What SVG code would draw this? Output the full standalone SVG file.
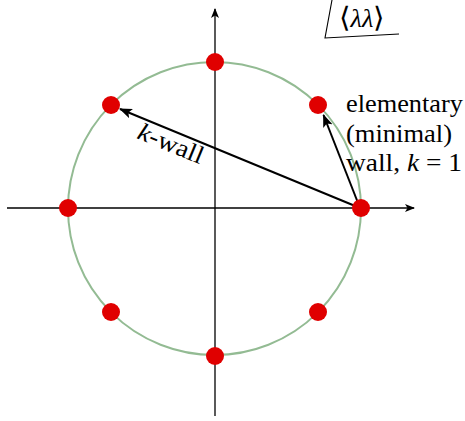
<svg xmlns="http://www.w3.org/2000/svg" width="465" height="421" viewBox="0 0 465 421">
<style>
.axis{stroke:#000;stroke-width:1.3;fill:none}
.wall{stroke:#000;stroke-width:2;fill:none}
.dot{fill:#e00000}
.t{font-family:'Liberation Serif','Times New Roman',serif;font-size:25px;fill:#000}
</style>
<defs>
<marker id="ah" markerWidth="10" markerHeight="8" refX="9" refY="4" orient="auto" markerUnits="userSpaceOnUse">
<path d="M0,0 L10,4 L0,8 L2.5,4 z" fill="#000"/>
</marker>
<marker id="aw" markerWidth="13" markerHeight="10" refX="12" refY="5" orient="auto" markerUnits="userSpaceOnUse">
<path d="M0,0 L13,5 L0,10 L3,5 z" fill="#000"/>
</marker>
</defs>
<g id="circle"><circle cx="214.5" cy="208.5" r="146.5" fill="none" stroke="#93bb93" stroke-width="2"/></g>
<g id="axes">
<line class="axis" x1="7" y1="208" x2="414" y2="208" marker-end="url(#ah)"/>
<line class="axis" x1="215" y1="416" x2="215" y2="9" marker-end="url(#ah)"/>
</g>
<g id="connectors">
<line class="wall" x1="360" y1="208" x2="120" y2="109" marker-end="url(#aw)"/>
<line class="wall" x1="360" y1="208" x2="323.5" y2="115" marker-end="url(#aw)"/>
</g>
<g id="dots">
<circle class="dot" cx="361" cy="208" r="9"/>
<circle class="dot" cx="318" cy="105" r="9"/>
<circle class="dot" cx="215" cy="62" r="9"/>
<circle class="dot" cx="111" cy="105" r="9"/>
<circle class="dot" cx="68" cy="208" r="9"/>
<circle class="dot" cx="111" cy="312" r="9"/>
<circle class="dot" cx="215" cy="356" r="9"/>
<circle class="dot" cx="318" cy="312" r="9"/>
</g>
<g id="label-elementary">
<text class="t" x="346" y="112" textLength="117" lengthAdjust="spacingAndGlyphs">elementary</text>
<text class="t" x="346" y="142" textLength="106" lengthAdjust="spacingAndGlyphs">(minimal)</text>
<text class="t" x="346" y="171" textLength="116" lengthAdjust="spacingAndGlyphs">wall, <tspan font-style="italic">k</tspan> = 1</text>
</g>
<g id="label-kwall">
<text class="t" transform="translate(136,138) rotate(22.4)" textLength="69" lengthAdjust="spacingAndGlyphs"><tspan font-style="italic">k</tspan>-wall</text>
</g>
<g id="label-lambda">
<polyline points="332,0 325,38 399,34" fill="none" stroke="#000" stroke-width="1.1"/>
<text class="t" x="339" y="27" font-size="22" textLength="46" lengthAdjust="spacingAndGlyphs"><tspan font-size="28">⟨</tspan><tspan font-style="italic">λλ</tspan><tspan font-size="28">⟩</tspan></text>
</g>
</svg>
